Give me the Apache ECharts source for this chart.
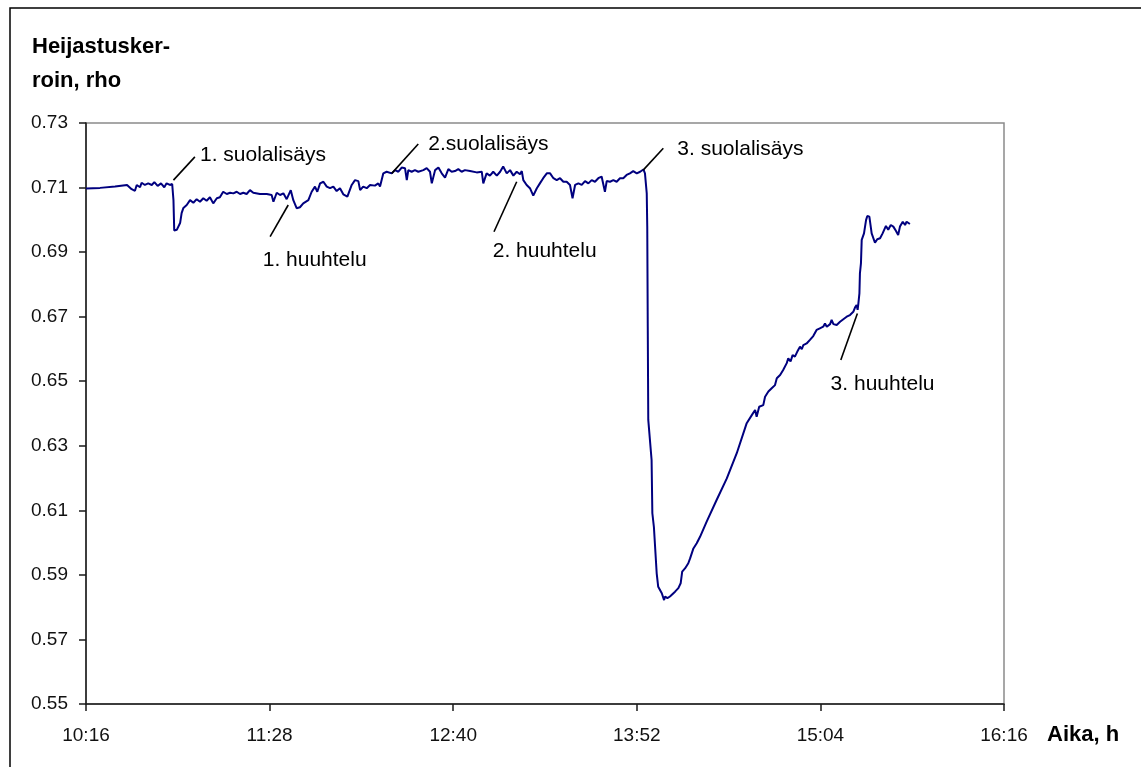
<!DOCTYPE html>
<html>
<head>
<meta charset="utf-8">
<script src="https://cdn.jsdelivr.net/npm/echarts@6/dist/echarts.min.js"></script>
<style>
  html, body { margin: 0; padding: 0; background: #fff; }
  #chart { width: 1141px; height: 767px; }
</style>
</head>
<body>
<div id="chart"></div>
<script>
// Reflectance measurement, time counted in minutes from 10:16
const START_CLOCK_MIN = 10 * 60 + 16;

const minutesFromStart = [
  0, 5.5, 11.4, 16.1, 16.6, 17.9, 19.2, 19.9, 21.2, 21.8,
  23.1, 24.4, 25.8, 26.8, 28.1, 29.4, 30.7, 31.6, 32.9, 33.8,
  34.3, 34.6, 35.6, 36.9, 37.5, 38.2, 39.5, 40.8, 42.1, 43.4,
  44.7, 46.0, 47.3, 48.6, 49.9, 51.3, 52.5, 53.8, 55.2, 56.5,
  57.8, 59.1, 60.4, 61.7, 63.0, 64.3, 65.6, 68.2, 70.9, 72.8,
  73.5, 74.8, 76.1, 77.4, 78.7, 80.3, 81.3, 82.6, 83.9, 85.2,
  87.2, 88.5, 89.8, 90.7, 91.8, 93.1, 94.4, 95.7, 97.0, 98.3,
  99.6, 100.9, 102.5, 104.2, 105.5, 106.8, 107.5, 108.7, 110.1, 111.4,
  113.3, 114.6, 115.3, 116.6, 117.9, 119.9, 121.2, 122.5, 123.8, 125.1,
  125.8, 126.4, 127.7, 129.0, 130.3, 132.3, 133.6, 134.9, 135.6, 136.9,
  138.2, 139.5, 140.8, 142.1, 143.4, 144.7, 146.0, 147.3, 148.6, 150.6,
  153.2, 155.2, 155.8, 157.1, 158.4, 159.7, 161.1, 162.4, 163.6, 165.0,
  166.3, 167.6, 168.9, 170.2, 170.9, 171.5, 172.8, 174.1, 175.4, 176.8,
  178.0, 179.3, 180.7, 182.0, 183.3, 184.6, 185.9, 187.2, 188.5, 189.8,
  190.8, 191.8, 193.1, 194.4, 195.7, 197.0, 198.3, 199.6, 200.9, 202.2,
  203.5, 204.2, 205.5, 206.8, 208.1, 209.4, 210.7, 212.0, 213.3, 214.6,
  216.0, 217.3, 218.6,
  219.2, 219.9, 220.1, 220.3, 220.5, 221.8, 222.1, 222.7, 223.8, 224.4,
  225.8, 226.7, 227.1, 228.0, 229.0, 229.7, 231.0, 232.3, 233.2, 233.8,
  234.9, 236.2, 236.9, 238.2, 239.5, 240.8, 243.4, 247.3, 251.3, 255.2,
  259.1, 261.1, 262.4, 263.0, 264.0, 265.6, 266.3, 267.6, 268.9, 270.2,
  270.9, 272.2, 273.4, 274.8, 275.4, 276.3, 277.1, 278.0, 278.9, 280.0,
  280.7, 281.3, 282.6, 283.9, 285.2, 286.5, 287.8, 289.1, 289.8, 290.5,
  291.8, 292.4, 293.1, 294.4, 295.7, 297.0, 298.3, 299.6, 300.9, 301.6,
  302.2, 302.6, 302.9, 303.3, 303.5, 303.9, 304.2, 305.1, 305.9, 306.4,
  307.2, 308.1, 309.4, 310.3, 311.4, 312.4, 313.7, 314.6, 315.6, 316.6,
  317.6, 318.5, 319.2, 320.3, 321.2, 321.8, 323.1
];

const rho = [
  0.7097, 0.7099, 0.7103, 0.7108, 0.7113, 0.7095, 0.7090, 0.7108, 0.7101, 0.7115,
  0.7108, 0.7113, 0.7108, 0.7117, 0.7105, 0.7113, 0.7101, 0.7113, 0.7108, 0.7111,
  0.7061, 0.6967, 0.6969, 0.6990, 0.7021, 0.7037, 0.7046, 0.7061, 0.7053, 0.7064,
  0.7056, 0.7067, 0.7059, 0.7070, 0.7051, 0.7067, 0.7070, 0.7087, 0.7080, 0.7084,
  0.7082, 0.7087, 0.7080, 0.7084, 0.7080, 0.7092, 0.7084, 0.7080, 0.7080, 0.7077,
  0.7056, 0.7084, 0.7077, 0.7082, 0.7064, 0.7092, 0.7061, 0.7036, 0.7039, 0.7051,
  0.7061, 0.7087, 0.7103, 0.7087, 0.7113, 0.7118, 0.7103, 0.7098, 0.7103, 0.7089,
  0.7098, 0.7079, 0.7072, 0.7108, 0.7123, 0.7120, 0.7092, 0.7103, 0.7098, 0.7108,
  0.7106, 0.7113, 0.7103, 0.7144, 0.7149, 0.7144, 0.7154, 0.7149, 0.7162, 0.7160,
  0.7123, 0.7154, 0.7149, 0.7154, 0.7149, 0.7154, 0.7160, 0.7149, 0.7113, 0.7154,
  0.7162, 0.7144, 0.7131, 0.7157, 0.7149, 0.7151, 0.7157, 0.7149, 0.7154, 0.7151,
  0.7147, 0.7149, 0.7113, 0.7144, 0.7137, 0.7149, 0.7137, 0.7149, 0.7165, 0.7144,
  0.7154, 0.7137, 0.7149, 0.7141, 0.7151, 0.7123, 0.7108, 0.7098, 0.7075, 0.7098,
  0.7113, 0.7129, 0.7144, 0.7144, 0.7129, 0.7123, 0.7129, 0.7118, 0.7118, 0.7108,
  0.7067, 0.7108, 0.7113, 0.7108, 0.7120, 0.7113, 0.7123, 0.7118, 0.7129, 0.7134,
  0.7087, 0.7120, 0.7118, 0.7123, 0.7118, 0.7129, 0.7129, 0.7139, 0.7144, 0.7151,
  0.7144, 0.7149, 0.7156,
  0.7144, 0.7082, 0.6979, 0.6669, 0.6380, 0.6256, 0.6091, 0.6049, 0.5905, 0.5863,
  0.5843, 0.5822, 0.5833, 0.5828, 0.5833, 0.5838, 0.5848, 0.5859, 0.5874, 0.5910,
  0.5920, 0.5936, 0.5951, 0.5982, 0.5998, 0.6018, 0.6065, 0.6132, 0.6199, 0.6277,
  0.6370, 0.6395, 0.6411, 0.6390, 0.6421, 0.6426, 0.6452, 0.6468, 0.6478, 0.6488,
  0.6509, 0.6519, 0.6535, 0.6556, 0.6571, 0.6561, 0.6581, 0.6576, 0.6591, 0.6607,
  0.6599, 0.6612, 0.6617, 0.6628, 0.6640, 0.6659, 0.6664, 0.6669, 0.6679, 0.6669,
  0.6677, 0.6690, 0.6677, 0.6674, 0.6684, 0.6692, 0.6700, 0.6705, 0.6715, 0.6729,
  0.6736, 0.6721, 0.6741, 0.6772, 0.6834, 0.6865, 0.6938, 0.6958, 0.6999, 0.7012,
  0.7010, 0.6958, 0.6929, 0.6940, 0.6943, 0.6958, 0.6981, 0.6969, 0.6984, 0.6979,
  0.6966, 0.6953, 0.6979, 0.6994, 0.6984, 0.6994, 0.6987
];

// Event annotations: leader line from the curve to the label, label anchored at its left edge
const annoLabels = ['1. suolalisäys', '1. huuhtelu', '2.suolalisäys', '2. huuhtelu', '3. suolalisäys', '3. huuhtelu'];
const annoPointT = [34.3, 79.3, 119.9, 168.9, 218.5, 302.5];
const annoPointV = [0.7123, 0.7046, 0.7144, 0.7118, 0.7154, 0.6710];
const annoLeadT  = [42.7, 72.2, 130.3, 160.0, 226.4, 296.0];
const annoLeadV  = [0.7195, 0.6948, 0.7235, 0.6963, 0.7222, 0.6566];
const annoTextT  = [44.7, 69.3, 134.2, 159.5, 231.9, 292.0];
const annoTextV  = [0.7201, 0.6874, 0.7233, 0.6904, 0.7219, 0.6491];

const FONT = '"Liberation Sans", Arial, Helvetica, sans-serif';

function clockLabel(m) {
  const total = START_CLOCK_MIN + Math.round(m);
  const h = Math.floor(total / 60);
  const mm = total % 60;
  return h + ':' + (mm < 10 ? '0' : '') + mm;
}

const lineData = minutesFromStart.map((t, i) => [t, rho[i]]);
const annoData = annoLabels.map((_, i) => [
  annoPointT[i], annoPointV[i], annoLeadT[i], annoLeadV[i], annoTextT[i], annoTextV[i]
]);

const chart = echarts.init(document.getElementById('chart'), null, { renderer: 'canvas' });

chart.setOption({
  animation: false,
  backgroundColor: '#ffffff',
  title: {
    text: 'Heijastusker-\nroin, rho',
    left: 32,
    top: 30,
    padding: 0,
    textStyle: { fontFamily: FONT, fontSize: 22, fontWeight: 'bold', lineHeight: 34, color: '#000' }
  },
  graphic: [{
    type: 'rect',
    shape: { x: 10, y: 8, width: 1200, height: 800 },
    style: { fill: null, stroke: '#000', lineWidth: 1.5 },
    silent: true
  }],
  grid: {
    left: 86, top: 123, right: 137, bottom: 63,
    show: true, borderColor: '#8a8a8a', borderWidth: 1.5, backgroundColor: 'transparent'
  },
  xAxis: {
    type: 'value',
    min: 0, max: 360, interval: 72,
    name: 'Aika, h',
    nameLocation: 'end',
    nameGap: 43,
    nameTextStyle: {
      fontFamily: FONT, fontSize: 22, fontWeight: 'bold', color: '#000',
      align: 'left', verticalAlign: 'top', lineHeight: 22, padding: [20, 0, 0, 0]
    },
    axisLine: { lineStyle: { color: '#1a1a1a', width: 1.5 } },
    axisTick: { show: true, length: 7, lineStyle: { color: '#1a1a1a', width: 1.5 } },
    splitLine: { show: false },
    axisLabel: {
      fontFamily: FONT, fontSize: 19, color: '#111', margin: 22,
      showMinLabel: true, showMaxLabel: true,
      formatter: clockLabel
    }
  },
  yAxis: {
    type: 'value',
    min: 0.55, max: 0.73, interval: 0.02,
    axisLine: { show: true, lineStyle: { color: '#1a1a1a', width: 1.5 } },
    axisTick: { show: true, length: 7, lineStyle: { color: '#1a1a1a', width: 1.5 } },
    splitLine: { show: false },
    axisLabel: {
      fontFamily: FONT, fontSize: 19, color: '#111', margin: 18,
      showMinLabel: true, showMaxLabel: true,
      formatter: v => v.toFixed(2)
    }
  },
  series: [
    {
      name: 'rho',
      type: 'line',
      data: lineData,
      showSymbol: false,
      symbol: 'none',
      smooth: false,
      lineStyle: { color: '#00007f', width: 2 },
      z: 3
    },
    {
      name: 'events',
      type: 'custom',
      data: annoData,
      encode: { x: [0, 2, 4], y: [1, 3, 5] },
      silent: true,
      clip: false,
      z: 4,
      renderItem: function (params, api) {
        const i = params.dataIndex;
        const p = api.coord([api.value(0), api.value(1)]);
        const q = api.coord([api.value(2), api.value(3)]);
        const s = api.coord([api.value(4), api.value(5)]);
        return {
          type: 'group',
          children: [
            {
              type: 'line',
              shape: { x1: p[0], y1: p[1], x2: q[0], y2: q[1] },
              style: { stroke: '#000', lineWidth: 1.6 }
            },
            {
              type: 'text',
              style: {
                text: annoLabels[i],
                x: s[0], y: s[1],
                align: 'left', verticalAlign: 'middle',
                font: '21px ' + FONT,
                fill: '#000'
              }
            }
          ]
        };
      }
    }
  ]
});
</script>
</body>
</html>
